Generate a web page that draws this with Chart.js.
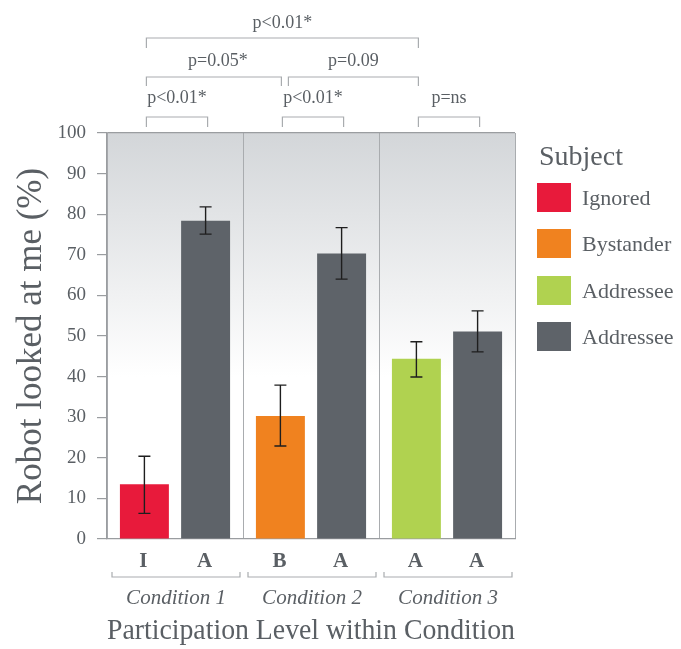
<!DOCTYPE html>
<html>
<head>
<meta charset="utf-8">
<script src="https://cdn.jsdelivr.net/npm/chart.js@4"></script>
<style>
  html, body { margin: 0; padding: 0; background: #fff; }
  #wrap { width: 681px; height: 649px; }
</style>
</head>
<body>
<div id="wrap"><canvas id="chart" width="681" height="649"></canvas></div>
<script>
// Dados do gráfico
const conditions = ['Condition 1', 'Condition 2', 'Condition 3'];
const firstLevels = ['I', 'B', 'A'];
const secondLevels = ['A', 'A', 'A'];

const firstValues = [13.5, 30.3, 44.4];
const firstLow = [6.3, 22.9, 39.9];
const firstHigh = [20.4, 37.9, 48.6];

const addresseeValues = [78.4, 70.3, 51.1];
const addresseeLow = [75.1, 64.0, 46.1];
const addresseeHigh = [81.8, 76.7, 56.2];

const yTicks = [0, 10, 20, 30, 40, 50, 60, 70, 80, 90, 100];

const legendLabels = ['Ignored', 'Bystander', 'Addressee', 'Addressee'];

// comparações: [dataset, índice] de cada barra, nível, texto
const comparisons = [
    { from: [0, 0], to: [1, 0], level: 0, text: 'p<0.01*' },
    { from: [0, 1], to: [1, 1], level: 0, text: 'p<0.01*' },
    { from: [0, 2], to: [1, 2], level: 0, text: 'p=ns' },
    { from: [0, 0], to: [0, 1], level: 1, text: 'p=0.05*' },
    { from: [0, 1], to: [0, 2], level: 1, text: 'p=0.09' },
    { from: [0, 0], to: [0, 2], level: 2, text: 'p<0.01*' }
];

// Cores
const red = '#e81a3b';
const orange = '#f0821f';
const green = '#b0d250';
const gray = '#5e6369';
const textColor = '#5a5f64';
const lineColor = '#a9acaf';
const serif = "'Liberation Serif', 'DejaVu Serif', serif";

const firstColors = [red, orange, green];
const legendColors = [red, orange, green, gray];
const errorSets = [[firstLow, firstHigh], [addresseeLow, addresseeHigh]];

// fundo em degradê da área do gráfico
const backgroundPlugin = {
    id: 'plotBackground',
    beforeDraw(chart) {
        const { ctx, chartArea: a } = chart;
        const g = ctx.createLinearGradient(0, a.top, 0, a.bottom);
        g.addColorStop(0, '#d3d6d9');
        g.addColorStop(0.6, '#ffffff');
        g.addColorStop(1, '#ffffff');
        ctx.save();
        ctx.fillStyle = g;
        ctx.fillRect(a.left, a.top, a.right - a.left, a.bottom - a.top);
        ctx.restore();
    }
};

// barras de erro
const errorBarPlugin = {
    id: 'errorBars',
    afterDatasetsDraw(chart) {
        const { ctx } = chart;
        const y = chart.scales.y;
        ctx.save();
        ctx.strokeStyle = '#1e1e1e';
        ctx.lineWidth = 1.4;
        errorSets.forEach((set, d) => {
            chart.getDatasetMeta(d).data.forEach((bar, i) => {
                const x = bar.x;
                const lo = y.getPixelForValue(set[0][i]);
                const hi = y.getPixelForValue(set[1][i]);
                ctx.beginPath();
                ctx.moveTo(x, lo); ctx.lineTo(x, hi);
                ctx.moveTo(x - 6, lo); ctx.lineTo(x + 6, lo);
                ctx.moveTo(x - 6, hi); ctx.lineTo(x + 6, hi);
                ctx.stroke();
            });
        });
        ctx.restore();
    }
};

// anotações: níveis no eixo x, chaves de condição, comparações e legenda
const annotationPlugin = {
    id: 'annotations',
    afterDraw(chart) {
        const { ctx } = chart;
        const xs = chart.scales.x;
        const barX = (ref) => chart.getDatasetMeta(ref[0]).data[ref[1]].x;

        ctx.save();
        ctx.fillStyle = textColor;
        ctx.textAlign = 'center';
        ctx.textBaseline = 'alphabetic';

        // letras debaixo das barras
        ctx.font = 'bold 21px ' + serif;
        [firstLevels, secondLevels].forEach((levels, d) => {
            chart.getDatasetMeta(d).data.forEach((bar, i) => {
                ctx.fillText(levels[i], bar.x - 1, 567);
            });
        });

        // chaves das condições
        const half = (xs.getPixelForValue(1) - xs.getPixelForValue(0)) / 2;
        ctx.strokeStyle = lineColor;
        ctx.lineWidth = 1.2;
        ctx.font = 'italic 21px ' + serif;
        conditions.forEach((c, i) => {
            const cx = xs.getPixelForValue(i);
            const l = cx - half + 5, r = cx + half - 3;
            ctx.beginPath();
            ctx.moveTo(l, 572); ctx.lineTo(l, 577); ctx.lineTo(r, 577); ctx.lineTo(r, 572);
            ctx.stroke();
            ctx.fillText(c, cx + 1, 604);
        });

        // comparações no topo
        const levelY = [117, 77, 38];
        const legLen = [10, 9, 10];
        const textGap = [14, 11, 10];
        ctx.font = '18px ' + serif;
        comparisons.forEach((cmp) => {
            let l = barX(cmp.from) + 2;
            let r = barX(cmp.to) + 2;
            if (cmp.level === 1 && cmp.from[1] === 0) r -= 1;
            if (cmp.level === 1 && cmp.from[1] === 1) l += 6;
            const y = levelY[cmp.level];
            ctx.beginPath();
            ctx.moveTo(l, y + legLen[cmp.level]); ctx.lineTo(l, y);
            ctx.lineTo(r, y); ctx.lineTo(r, y + legLen[cmp.level]);
            ctx.stroke();
            const shift = (cmp.level === 1 && cmp.from[1] === 0) ? 4 : 0;
            ctx.fillText(cmp.text, (l + r) / 2 + shift, y - textGap[cmp.level]);
        });

        // legenda
        ctx.textAlign = 'left';
        ctx.font = '28px ' + serif;
        ctx.fillText('Subject', 539, 165);
        ctx.font = '22px ' + serif;
        const tops = [183, 229, 276, 322];
        legendLabels.forEach((lab, i) => {
            ctx.fillStyle = legendColors[i];
            ctx.fillRect(537, tops[i], 34, 29);
            ctx.fillStyle = textColor;
            ctx.fillText(lab, 582, tops[i] + 22);
        });
        ctx.restore();
    }
};

new Chart(document.getElementById('chart').getContext('2d'), {
    type: 'bar',
    data: {
        labels: conditions,
        datasets: [
            {
                label: 'Subject',
                data: firstValues,
                backgroundColor: firstColors,
                borderWidth: 0
            },
            {
                label: 'Addressee',
                data: addresseeValues,
                backgroundColor: gray,
                borderWidth: 0
            }
        ]
    },
    options: {
        responsive: false,
        animation: false,
        devicePixelRatio: 1,
        categoryPercentage: 0.9,
        barPercentage: 0.8,
        layout: { padding: { top: 133, right: 166, left: 0, bottom: 0 } },
        plugins: {
            legend: { display: false },
            tooltip: { enabled: false }
        },
        scales: {
            x: {
                afterFit: (s) => { s.height = 110; },
                ticks: { display: false },
                grid: {
                    offset: true,
                    color: lineColor,
                    lineWidth: 1,
                    drawTicks: false
                },
                border: { color: '#9a9da0', width: 1.2 },
                title: {
                    display: true,
                    text: 'Participation Level within Condition',
                    color: textColor,
                    font: { family: serif, size: 29 },
                    padding: { top: 0, bottom: 0 }
                }
            },
            y: {
                min: 0,
                max: 100,
                afterFit: (s) => { s.width = 107; },
                afterBuildTicks: (s) => { s.ticks = yTicks.map(v => ({ value: v })); },
                ticks: {
                    color: textColor,
                    padding: 11,
                    font: { family: serif, size: 19 }
                },
                grid: {
                    drawOnChartArea: true,
                    tickLength: 10,
                    color: (c) => c.tick && c.tick.value === 100 ? '#9a9da0' : 'transparent',
                    tickColor: '#9a9da0',
                    lineWidth: 1.2
                },
                border: { color: '#9a9da0', width: 1.2 },
                title: {
                    display: true,
                    text: 'Robot looked at me (%)',
                    color: textColor,
                    font: { family: serif, size: 35 },
                    padding: { top: 11, bottom: 0 }
                }
            }
        }
    },
    plugins: [backgroundPlugin, errorBarPlugin, annotationPlugin]
});
</script>
</body>
</html>
